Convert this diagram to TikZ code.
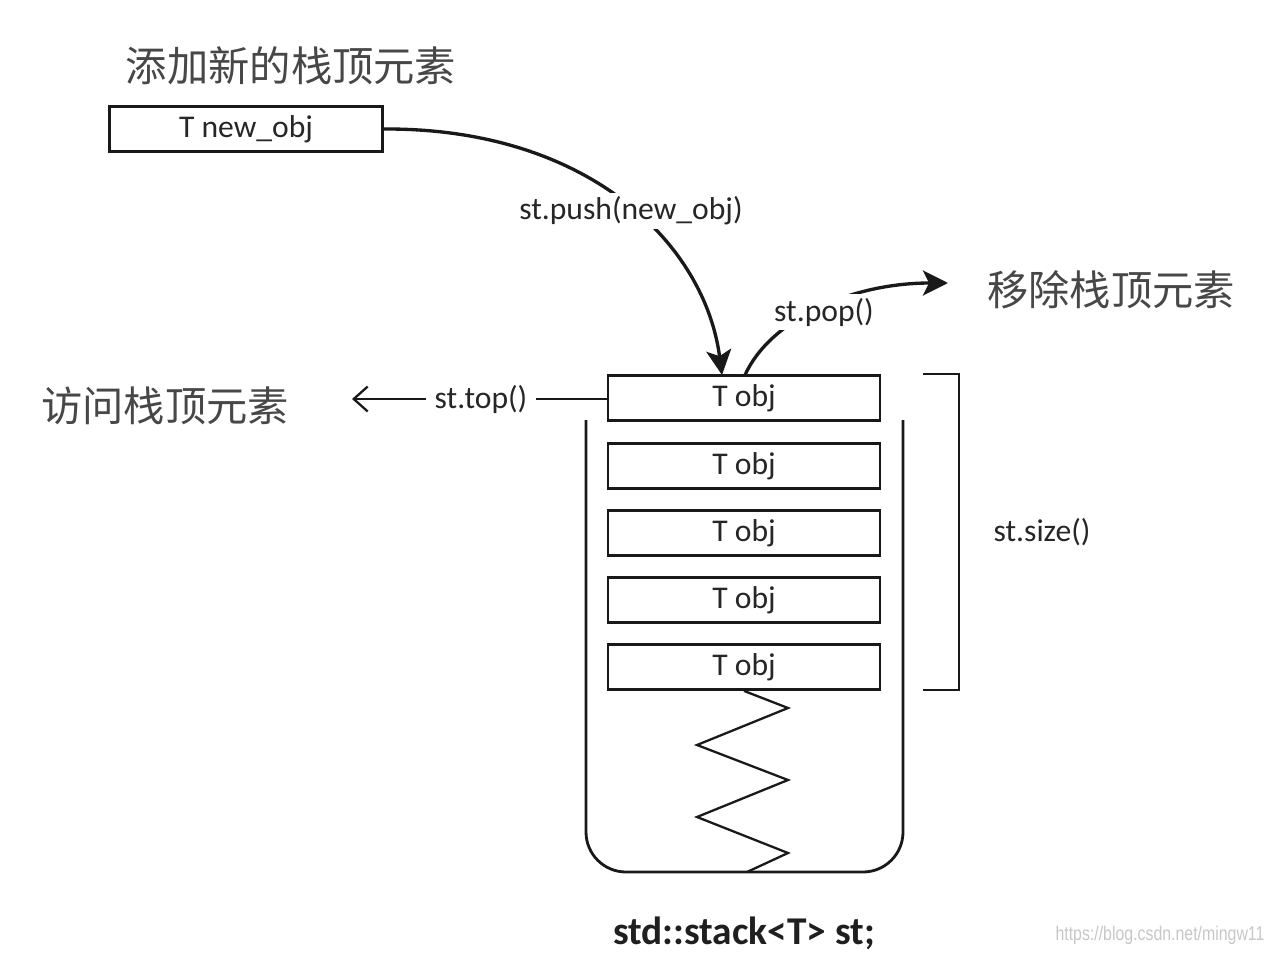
\documentclass[tikz,border=0pt]{standalone}
\usepackage{fontspec}
\setmainfont{Carlito}
\newfontfamily\cjk{Noto Sans CJK SC}
\newfontfamily\wm{Liberation Sans}
\usetikzlibrary{arrows.meta}
\begin{document}
\begin{tikzpicture}[x=0.02cm,y=-0.02cm,
  box/.style={draw=black!90, line width=1.6pt, minimum width=5.44cm, minimum height=0.9cm, inner sep=0pt, font=\fontsize{18}{20}\selectfont, text=black!85},
  cn/.style={font=\cjk\fontsize{23.5}{26}\selectfont, text=black!72},
  lbl/.style={font=\fontsize{18}{20}\selectfont, text=black!85},
  line/.style={line width=1.6pt, draw=black!90},
  conn/.style={line width=1.9pt, draw=black!90, -{Stealth[length=0.5cm,width=0.5cm,inset=0.12cm]}},
  thin/.style={line width=1.3pt, draw=black!90}
]
\useasboundingbox (0,0) rectangle (1271,953);
% titles
\node[cn] (t1) at (291,66) {添加新的栈顶元素};
\node[cn] (t2) at (165,406) {访问栈顶元素};
\node[cn] (t3) at (1111,290) {移除栈顶元素};
% boxes
\node[box, minimum width=5.46cm] (newobj) at (246,129) {T new\_obj};
\node[box] (b1) at (744,398) {T obj};
\node[box] (b2) at (744,466) {T obj};
\node[box] (b3) at (744,533) {T obj};
\node[box] (b4) at (744,600) {T obj};
\node[box] (b5) at (744,667) {T obj};
% container
\draw[line, rounded corners=0.8cm] (586,420) -- (586,872) -- (903,872) -- (903,420);
% spring
\coordinate (sprend) at (747,872);
\draw[thin] (b5.south) -- (788,708) -- (697,745) -- (788,780) -- (697,817) -- (788,853) -- (sprend);
% bracket
\coordinate (brt) at (923,374);
\coordinate (brb) at (923,690);
\draw[line] (brt) -- (959,374) -- (959,690) -- (brb);
% curves
\coordinate (pushend) at (722,375);
\coordinate (popstart) at (745,375);
\coordinate (popend) at (948,283);
\draw[conn] (newobj.east) .. controls (590,128) and (705,245) .. (pushend);
\draw[conn] (popstart) .. controls (770,320) and (850,283) .. (popend);
% labels
\node[lbl, fill=white, inner sep=2pt] (push) at (631,211) {st.push(new\_obj)};
\node[lbl, fill=white, inner sep=2pt] (pop) at (824,312) {st.pop()};
\node[lbl, inner sep=5pt] (top) at (481,399) {st.top()};
\node[lbl] (size) at (1042,532) {st.size()};
% top arrow
\coordinate (toptip) at (352,399);
\draw[thin] (top.east) -- (top.east -| b1.west);
\draw[thin, -{Straight Barb[length=0.28cm,width=0.5cm]}] (top.west) -- (toptip);
% declaration
\node[font=\bfseries\fontsize{22.4}{24}\selectfont, text=black!88] (decl) at (744,933) {std::stack<T> st;};
\node[font=\wm\fontsize{11.3}{12}\selectfont, text=black!22, xscale=0.8] (wm) at (1160,935) {https://blog.csdn.net/mingw11};
\end{tikzpicture}
\end{document}
